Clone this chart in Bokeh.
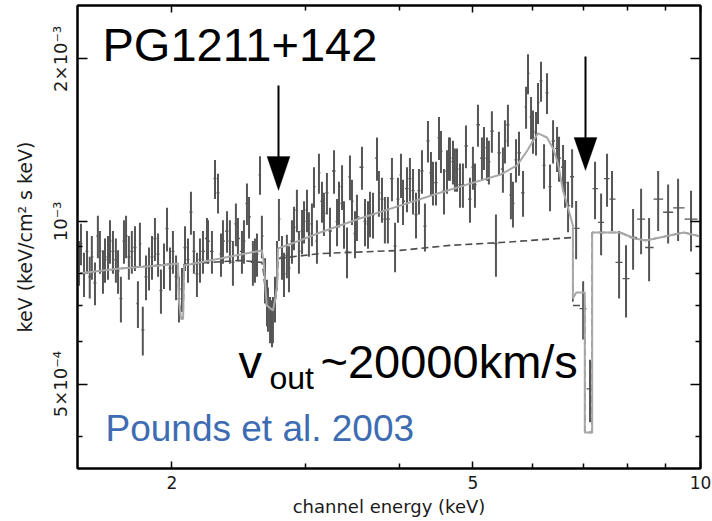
import numpy as np
from math import log10
from bokeh.plotting import figure
from bokeh.models import (Range1d, LogAxis, FixedTicker, Label, Arrow, PolyAnnotation,
                          ColumnDataSource, CustomJSTickFormatter)
from bokeh.embed import file_html
from bokeh.resources import INLINE

# ---------------- data ----------------
# channel energy (keV)
energy_keV = [
    1.507, 1.516, 1.530, 1.544, 1.557, 1.567, 1.582, 1.596, 1.606, 1.621,
    1.631, 1.646, 1.656, 1.671, 1.686, 1.697, 1.712, 1.728, 1.739, 1.754,
    1.770, 1.787, 1.803, 1.814, 1.830, 1.848, 1.865, 1.882, 1.899, 1.917,
    1.934, 1.952, 1.970, 1.988, 2.006, 2.025, 2.043, 2.062, 2.081, 2.100,
    2.119, 2.138, 2.158, 2.178, 2.198,
    2.225, 2.232, 2.259, 2.280, 2.301, 2.322, 2.336, 2.365, 2.386, 2.408,
    2.430, 2.445, 2.475, 2.490, 2.513, 2.529, 2.559, 2.575, 2.591, 2.615,
    2.630, 2.655, 2.671, 2.679, 2.696, 2.712, 2.720, 2.737, 2.754, 2.770,
    2.796, 2.813, 2.838, 2.856, 2.882, 2.900, 2.926, 2.944, 2.972, 2.990,
    3.017, 3.035, 3.063, 3.082, 3.110, 3.129, 3.158, 3.177, 3.206,
    3.236, 3.276, 3.306, 3.326, 3.357, 3.377, 3.408, 3.439, 3.460, 3.492,
    3.513, 3.567, 3.600, 3.633, 3.655, 3.689, 3.734, 3.756, 3.791, 3.825,
    3.860, 3.908, 3.945, 3.980, 4.017, 4.042, 4.091, 4.128, 4.167, 4.205,
    4.243, 4.282, 4.321, 4.361, 4.401, 4.428, 4.469, 4.510, 4.537, 4.579,
    4.621, 4.649,
    4.663, 4.706, 4.734, 4.764, 4.808, 4.851, 4.896, 4.956, 5.001, 5.032,
    5.078, 5.140, 5.172, 5.219, 5.250, 5.298, 5.364, 5.413, 5.479, 5.513,
    5.563, 5.614, 5.649, 5.702, 5.754, 5.825, 5.879, 5.914, 5.969, 6.005,
    6.060, 6.097, 6.153, 6.210, 6.266, 6.324, 6.383, 6.461, 6.500, 6.580,
    6.620, 6.681,
    6.764, 6.847, 6.995, 7.143, 7.253, 7.388, 7.523, 7.638, 7.804, 7.971,
    8.144, 8.345, 8.551, 8.790, 9.061, 9.340, 9.716,
]
# flux, keV (keV/cm^2 s keV), in units of 1e-4
flux_1e4 = [
    8.4, 9.1, 8.0, 8.8, 7.9, 8.6, 7.7, 9.4, 8.8, 8.1,
    8.5, 8.6, 9.2, 8.8, 8.5, 8.1, 7.2, 9.2, 9.4, 8.6,
    8.8, 8.95, 7.05, 9.1, 6.3, 7.9, 8.2, 8.6, 9.3, 8.7,
    7.45, 8.3, 9.7, 8.2, 8.8, 7.9, 7.2, 7.5, 8.95, 8.5,
    10.4, 8.8, 8.0, 8.5, 8.8,
    9.3, 9.2, 8.8, 12.0, 11.3, 8.7, 9.2, 9.6, 9.2, 8.4,
    9.9, 9.3, 8.8, 9.2, 10.8, 10.2, 8.4, 8.5, 8.7, 12.2,
    9.4, 7.8, 7.1, 6.9, 6.6, 6.5, 6.6, 7.2, 8.4, 10.1,
    8.6, 8.0, 8.65, 8.2, 9.2, 9.75, 10.5, 8.8, 9.6, 10.0,
    10.5, 9.5, 9.9, 11.6, 9.2, 12.3, 10.9, 10.35, 11.3,
    9.6, 12.4, 10.0, 10.8, 11.6, 9.9, 8.8, 12.1, 10.9, 9.5,
    10.2, 12.6, 10.0, 9.9, 10.35, 10.3, 13.1, 11.3, 11.0, 10.1,
    10.1, 12.0, 9.0, 11.0, 12.2, 10.9, 11.5, 12.0, 11.4, 10.3,
    11.4, 12.4, 9.8, 14.1, 12.3, 11.8, 11.8, 14.3, 13.5, 11.4,
    12.4, 13.1,
    13.1, 12.9, 12.5, 12.5, 11.7, 11.7, 13.8, 11.0, 12.6, 11.7,
    15.1, 13.1, 13.7, 13.1, 12.9, 14.7, 9.1, 13.4, 12.5, 14.1,
    15.1, 11.2, 10.8, 13.0, 13.4, 11.3, 16.3, 18.8, 15.6, 14.7,
    14.6, 16.6, 18.2, 12.7, 17.3, 11.6, 14.1, 13.65, 13.1, 12.6,
    11.8, 10.7,
    12.1, 9.71, 6.9, 4.9, 11.5, 9.96, 12.0, 11.0, 8.4, 7.84,
    9.34, 10.1, 8.95, 11.0, 10.4, 10.6, 10.1,
]
# 1-sigma error, units of 1e-4
err_1e4 = [
    0.8, 0.8, 0.75, 0.8, 0.7, 0.8, 0.7, 0.85, 0.8, 0.75,
    0.8, 0.8, 0.85, 0.8, 0.8, 0.75, 0.7, 0.85, 0.85, 0.8,
    0.8, 0.85, 0.7, 0.85, 0.65, 0.75, 0.75, 0.8, 0.85, 0.8,
    0.7, 0.8, 0.9, 0.75, 0.8, 0.75, 0.7, 0.7, 0.85, 0.8,
    0.95, 0.8, 0.75, 0.8, 0.8,
    0.85, 0.85, 0.8, 1.0, 0.95, 0.8, 0.85, 0.85, 0.85, 0.8,
    0.9, 0.85, 0.8, 0.85, 0.95, 0.9, 0.8, 0.8, 0.8, 1.0,
    0.85, 0.75, 0.7, 0.65, 0.65, 0.65, 0.65, 0.7, 0.8, 0.9,
    0.8, 0.75, 0.8, 0.8, 0.85, 0.9, 0.95, 0.8, 0.9, 0.9,
    0.95, 0.9, 0.9, 1.0, 0.85, 1.05, 0.95, 0.95, 1.0,
    1.0, 1.15, 1.0, 1.05, 1.1, 1.0, 0.95, 1.15, 1.05, 0.95,
    1.0, 1.15, 1.0, 1.0, 1.0, 1.0, 1.2, 1.1, 1.05, 1.0,
    1.0, 1.1, 0.95, 1.05, 1.15, 1.05, 1.1, 1.1, 1.1, 1.0,
    1.1, 1.15, 1.0, 1.25, 1.15, 1.1, 1.1, 1.3, 1.2, 1.1,
    1.15, 1.2,
    1.2, 1.2, 1.15, 1.15, 1.1, 1.1, 1.25, 1.05, 1.15, 1.1,
    1.35, 1.2, 1.25, 1.2, 1.2, 1.3, 1.2, 1.25, 1.2, 1.3,
    1.35, 1.1, 1.05, 1.2, 1.25, 1.1, 1.45, 1.6, 1.4, 1.35,
    1.35, 1.45, 1.55, 1.2, 1.5, 1.15, 1.3, 1.3, 1.25, 1.25,
    1.2, 1.15,
    1.5, 1.2, 0.85, 0.65, 1.4, 1.3, 1.35, 1.4, 1.2, 1.2,
    1.2, 1.4, 1.2, 1.4, 1.3, 1.4, 1.3,
]

# best-fit model (solid, light grey)
model_energy = [1.50, 1.707, 1.928, 2.037, 2.043, 2.056, 2.069, 2.075,
                2.315, 2.630, 2.645, 2.660, 2.670, 2.720, 2.737, 2.754, 2.762,
                2.953, 3.139, 3.545, 4.005, 4.524, 5.109, 5.431, 5.72, 5.896,
                6.005, 6.097, 6.266, 6.383, 6.48, 6.58, 6.68, 6.78, 6.78,
                6.85, 7.03, 7.03, 7.19, 7.19,
                7.828, 8.19, 8.46, 8.843, 9.51, 10.0]
model_flux_1e4 = [8.01, 8.18, 8.29, 8.36, 7.14, 6.61, 6.61, 8.29,
                  8.54, 8.84, 8.4, 7.45, 6.99, 6.84, 7.14, 7.61, 8.91,
                  9.22, 9.54, 10.13, 10.7, 11.3, 11.9, 12.2, 12.7, 13.5,
                  14.1, 14.55, 14.3, 13.65, 12.8, 11.4, 10.6, 9.83, 7.2,
                  7.39, 7.39, 4.07, 4.07, 9.54,
                  9.54, 9.3, 9.22, 9.34, 9.54, 9.38]

# absorbed continuum (dashed, dark grey)
cont_energy = [1.50, 1.707, 2.037, 2.043, 2.056, 2.069, 2.075,
               2.46, 2.630, 2.645, 2.660, 2.670, 2.720, 2.737, 2.754, 2.762,
               3.139, 4.005, 4.663, 5.431, 6.78, 6.78,
               7.03, 7.03, 7.19, 7.19,
               7.828, 8.19, 8.46, 8.843, 9.51, 10.0]
cont_flux_1e4 = [8.01, 8.18, 8.36, 7.14, 6.61, 6.61, 8.33,
                 8.47, 8.40, 8.0, 7.3, 6.95, 6.84, 7.1, 7.5, 8.54,
                 8.72, 8.84, 9.03, 9.14, 9.34, 6.99,
                 6.99, 4.07, 4.07, 9.54,
                 9.54, 9.3, 9.22, 9.34, 9.54, 9.38]

x_major_ticks = [2, 5, 10]
x_minor_ticks = [3, 4, 6, 7, 8, 9]
y_major_ticks = [5e-4, 1e-3, 2e-3]
y_minor_ticks = [4e-4, 6e-4, 7e-4, 8e-4, 9e-4]

# ---------------- layout ----------------
W, H = 712, 521
FL, FT, FW, FH = 77, 5, 623, 463          # frame left/top/width/height (px)
X0, X1 = 1.5, 10.0
Y0, Y1 = 3.49e-4, 2.51e-3


def ex(px):
    return 10 ** (log10(X0) + (px - FL) / FW * (log10(X1) - log10(X0)))


def fy(py):
    return 10 ** (log10(Y1) - (py - FT) / FH * (log10(Y1) - log10(Y0)))


p = figure(width=W, height=H, x_axis_type="log", y_axis_type="log",
           x_range=Range1d(X0, X1), y_range=Range1d(Y0, Y1),
           output_backend="svg", toolbar_location=None,
           min_border_left=FL, min_border_right=W - FL - FW,
           min_border_top=FT, min_border_bottom=H - FT - FH)
p.background_fill_color = "white"
p.border_fill_color = "white"
p.outline_line_color = "black"
p.outline_line_width = 2
p.grid.visible = False

AX_FONT = "DejaVu Sans"
TXT = "#1a1a1a"

xa = p.xaxis[0]
xa.ticker = FixedTicker(ticks=x_major_ticks, minor_ticks=x_minor_ticks)
xa.formatter = CustomJSTickFormatter(code="return String(Math.round(tick));")
xa.axis_label = "channel energy (keV)"

ya = p.yaxis[0]
ya.ticker = FixedTicker(ticks=y_major_ticks, minor_ticks=y_minor_ticks)
ya.formatter = CustomJSTickFormatter(code="""
if (tick > 0.0015) { return "2\u00d710\u207b\u00b3"; }
if (tick > 0.0008) { return "10\u207b\u00b3"; }
return "5\u00d710\u207b\u2074";
""")
ya.axis_label = "keV (keV/cm\u00b2 s keV)"
ya.major_label_orientation = "parallel"

for ax in (xa, ya):
    ax.axis_line_color = "black"
    ax.axis_line_width = 2
    ax.major_tick_out = 0
    ax.minor_tick_out = 0
    ax.major_tick_line_color = "black"
    ax.minor_tick_line_color = "black"
    ax.major_tick_line_width = 1.5
    ax.minor_tick_line_width = 1.5
    ax.major_label_text_font = AX_FONT
    ax.major_label_text_font_size = "17px"
    ax.major_label_text_color = TXT
    ax.axis_label_text_font = AX_FONT
    ax.axis_label_text_font_size = "18px"
    ax.axis_label_text_font_style = "normal"
    ax.axis_label_text_color = TXT

ya.major_label_text_font_size = "18px"
ya.axis_label_text_font_size = "19px"
xa.major_tick_in = 7
xa.minor_tick_in = 5
xa.major_label_standoff = 7
xa.axis_label_standoff = 4
ya.major_tick_in = 10
ya.minor_tick_in = 5
ya.major_label_standoff = 6
ya.axis_label_standoff = 12

# mirrored axes (ticks only) on top and right
for loc, tk, mn, mj_in in (("above", FixedTicker(ticks=x_major_ticks, minor_ticks=x_minor_ticks), 5, 7),
                           ("right", FixedTicker(ticks=y_major_ticks, minor_ticks=y_minor_ticks), 5, 10)):
    ax2 = LogAxis(ticker=tk, formatter=CustomJSTickFormatter(code="return '';"),
                  major_label_text_font_size="0px", major_label_standoff=0,
                  major_tick_in=mj_in, major_tick_out=0, minor_tick_in=mn, minor_tick_out=0,
                  major_tick_line_width=1.5, minor_tick_line_width=1.5,
                  axis_line_color="black", axis_line_width=2)
    p.add_layout(ax2, loc)

# ---------------- data points ----------------
E = np.array(energy_keV)
F = np.array(flux_1e4) * 1e-4
S = np.array(err_1e4) * 1e-4
lE = np.log10(E)
mid = 10 ** ((lE[:-1] + lE[1:]) / 2)
left = np.concatenate([[E[0] ** 2 / mid[0]], mid])
right = np.concatenate([mid, [E[-1] ** 2 / mid[-1]]])
src = ColumnDataSource(dict(e=E, f=F, lo=F - S, hi=F + S, l=left, r=right))

DATA_C = "#555555"
p.segment(x0="e", y0="lo", x1="e", y1="hi", source=src, line_color=DATA_C, line_width=2)
p.segment(x0="l", y0="f", x1="r", y1="f", source=src, line_color=DATA_C, line_width=1.3)

# ---------------- models ----------------
p.line(np.array(cont_energy), np.array(cont_flux_1e4) * 1e-4,
       line_color="#4d4d4d", line_width=1.6, line_dash="7 4")
p.line(np.array(model_energy), np.array(model_flux_1e4) * 1e-4,
       line_color="#a8a8a8", line_width=2)

# ---------------- arrows ----------------
for xp, top, base, tip, hw in ((278, 85, 156, 190, 11.5), (585, 56, 137, 170, 11.5)):
    p.add_layout(Arrow(end=None, x_start=ex(xp), y_start=fy(top), x_end=ex(xp), y_end=fy(base + 2),
                       line_color="black", line_width=2))
    p.add_layout(PolyAnnotation(xs=[ex(xp - hw), ex(xp + hw), ex(xp)],
                                ys=[fy(base), fy(base), fy(tip)],
                                fill_color="black", fill_alpha=1.0,
                                line_color="black", line_width=1))

# ---------------- texts (anchored at the middle of the em box) ----------------
TF = "Liberation Sans"


def text_label(xp, baseline_px, txt, size, color="black"):
    yp = baseline_px - 0.35 * size
    p.add_layout(Label(x=ex(xp), y=fy(yp), text=txt, text_font=TF,
                       text_font_size=f"{size}px", text_color=color,
                       text_baseline="middle", text_align="left"))


text_label(102, 60, "PG1211+142", 47)
text_label(238, 377, "v", 47)
text_label(269, 389, "out", 32)
text_label(320, 377, "~20000km/s", 47)
text_label(105, 441, "Pounds et al. 2003", 37, "#3d6cb3")

open("out.html", "w").write(file_html(p, INLINE))
